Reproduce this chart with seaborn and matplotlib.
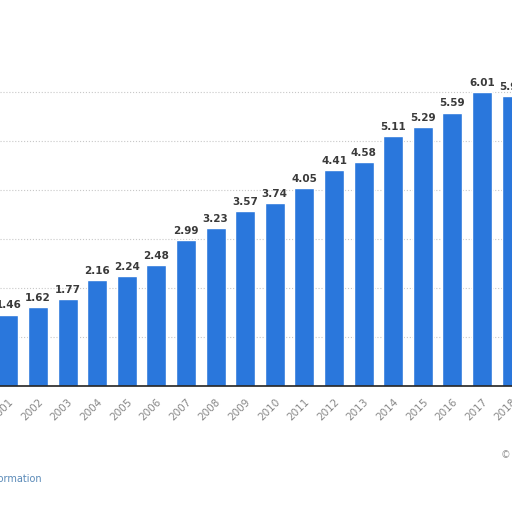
import matplotlib
matplotlib.use('Agg')
import matplotlib.pyplot as plt
import seaborn as sns

# Values
years = ['2001', '2002', '2003', '2004', '2005', '2006', '2007', '2008', '2009',
         '2010', '2011', '2012', '2013', '2014', '2015', '2016', '2017', '2018']
values = [1.46, 1.62, 1.77, 2.16, 2.24, 2.48, 2.99, 3.23, 3.57,
          3.74, 4.05, 4.41, 4.58, 5.11, 5.29, 5.59, 6.01, 5.93]

sns.set_style('white')
plt.rcParams['font.family'] = ['DejaVu Sans']

fig = plt.figure(figsize=(5.12, 5.12), dpi=100)
ax = fig.add_axes([0, 126 / 512, 1, 386 / 512])

sns.barplot(x=years, y=values, color='#2a77dc', saturation=1, width=0.67, ax=ax)

# plot is cropped: first and last bars run off the edges
ax.set_xlim(-0.284, 17.0135)
ax.set_ylim(0, 7.89)

ax.bar_label(ax.containers[0], fmt='%.2f', padding=3, fontsize=7.5,
             fontweight='bold', color='#3a3a3a')

ax.set_yticks([1, 2, 3, 4, 5, 6])
ax.yaxis.grid(True, linestyle=':', color='#c8c8c8', linewidth=0.8)
ax.set_axisbelow(True)
ax.tick_params(axis='y', left=False, labelleft=False)
ax.tick_params(axis='x', bottom=False, pad=4)
plt.setp(ax.get_xticklabels(), rotation=45, ha='right', rotation_mode='anchor',
         fontsize=7.5, color='#888888')

for side in ['top', 'left', 'right']:
    ax.spines[side].set_visible(False)
ax.spines['bottom'].set_color('#222222')
ax.spines['bottom'].set_linewidth(1.2)

ax.set_xlabel('')
ax.set_ylabel('')

fig.text(42 / 512, 1 - 479 / 512, 'Additional Information', ha='right', va='center',
         fontsize=7, color='#5a8ab8')
fig.text(506 / 512, 1 - 455 / 512, '©', ha='center', va='center',
         fontsize=7, color='#999999')

fig.savefig('out.png', dpi=100)
